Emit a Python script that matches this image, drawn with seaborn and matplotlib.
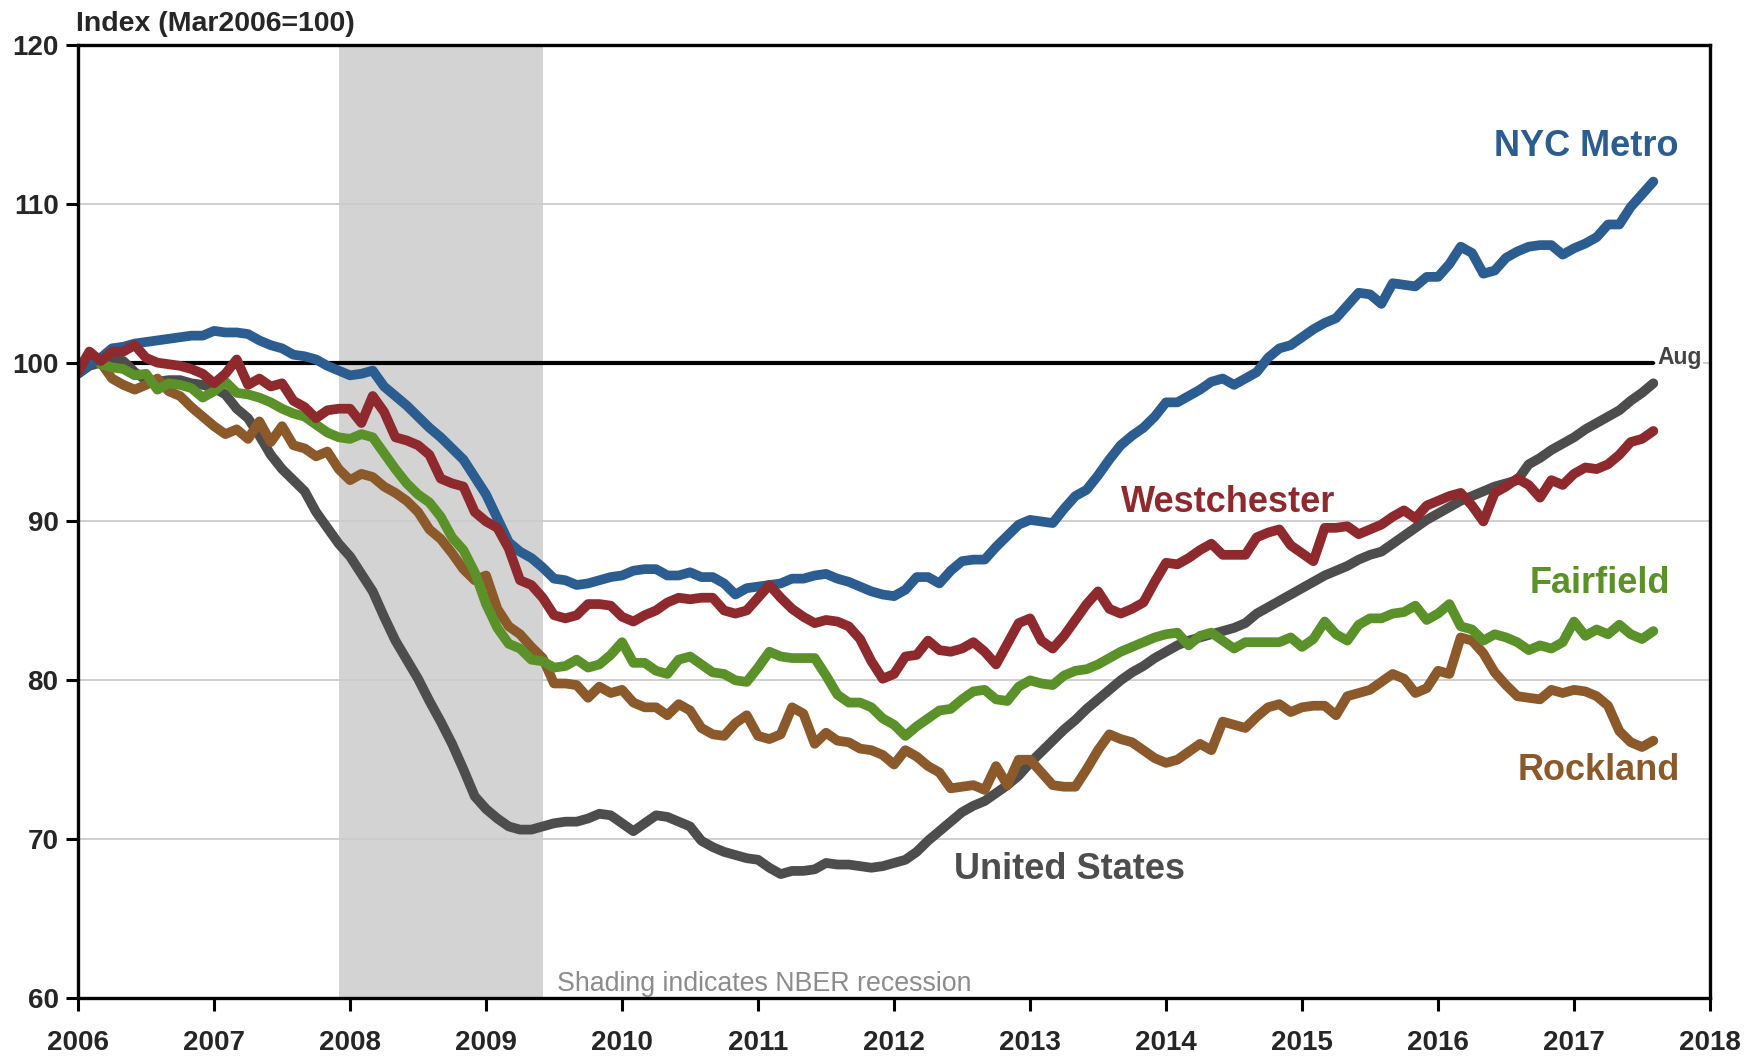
import numpy as np
import pandas as pd
import seaborn as sns
import matplotlib.pyplot as plt

# monthly index values, Jan 2006 .. Aug 2017 (Mar2006 = 100)
nyc_metro = [
    99.3, 99.9, 100.3, 100.9, 101.0, 101.2, 101.3, 101.4, 101.5, 101.6, 101.7, 101.7,
    102.0, 101.9, 101.9, 101.8, 101.4, 101.1, 100.9, 100.5, 100.4, 100.2, 99.8, 99.5,
    99.2, 99.3, 99.5, 98.5, 97.9, 97.3, 96.6, 95.9, 95.3, 94.6, 93.9, 92.8,
    91.7, 90.2, 88.7, 88.1, 87.7, 87.1, 86.4, 86.3, 86.0, 86.1, 86.3, 86.5,
    86.6, 86.9, 87.0, 87.0, 86.6, 86.6, 86.8, 86.5, 86.5, 86.1, 85.4, 85.8,
    85.9, 86.0, 86.1, 86.4, 86.4, 86.6, 86.7, 86.4, 86.2, 85.9, 85.6, 85.4,
    85.3, 85.7, 86.5, 86.5, 86.1, 86.9, 87.5, 87.6, 87.6, 88.4, 89.1, 89.8,
    90.1, 90.0, 89.9, 90.8, 91.6, 92.0, 92.9, 93.9, 94.8, 95.4, 95.9, 96.6,
    97.5, 97.5, 97.9, 98.3, 98.8, 99.0, 98.6, 99.0, 99.4, 100.3, 100.9, 101.1,
    101.6, 102.1, 102.5, 102.8, 103.6, 104.4, 104.3, 103.7, 105.0, 104.9, 104.8, 105.4,
    105.4, 106.2, 107.3, 106.9, 105.6, 105.8, 106.6, 107.0, 107.3, 107.4, 107.4, 106.8,
    107.2, 107.5, 107.9, 108.7, 108.7, 109.8, 110.6, 111.4,
]
westchester = [
    99.4, 100.7, 100.1, 100.7, 100.7, 101.1, 100.3, 100.0, 99.9, 99.8, 99.6, 99.3,
    98.7, 99.3, 100.2, 98.6, 99.0, 98.5, 98.7, 97.6, 97.2, 96.5, 97.0, 97.1,
    97.1, 96.2, 97.9, 96.9, 95.3, 95.1, 94.8, 94.2, 92.7, 92.4, 92.2, 90.6,
    90.0, 89.6, 88.3, 86.3, 86.0, 85.2, 84.1, 83.9, 84.1, 84.8, 84.8, 84.7,
    84.0, 83.7, 84.1, 84.4, 84.9, 85.2, 85.1, 85.2, 85.2, 84.4, 84.2, 84.4,
    85.2, 86.0, 85.2, 84.5, 84.0, 83.6, 83.8, 83.7, 83.4, 82.6, 81.2, 80.1,
    80.4, 81.5, 81.6, 82.5, 81.9, 81.8, 82.0, 82.4, 81.8, 81.0, 82.3, 83.6,
    83.9, 82.5, 82.0, 82.8, 83.8, 84.8, 85.6, 84.5, 84.2, 84.5, 84.9, 86.2,
    87.4, 87.3, 87.7, 88.2, 88.6, 87.9, 87.9, 87.9, 89.0, 89.3, 89.5, 88.5,
    88.0, 87.5, 89.6, 89.6, 89.7, 89.2, 89.5, 89.8, 90.3, 90.7, 90.2, 91.0,
    91.3, 91.6, 91.8, 91.0, 90.0, 91.8, 92.2, 92.7, 92.3, 91.5, 92.6, 92.3,
    93.0, 93.4, 93.3, 93.6, 94.2, 95.0, 95.2, 95.7,
]
united_states = [
    99.3, 99.8, 100.0, 100.2, 100.1, 99.4, 98.9, 98.8, 98.9, 98.9, 98.7, 98.6,
    98.4, 98.0, 97.1, 96.5, 95.4, 94.2, 93.3, 92.6, 91.9, 90.6, 89.6, 88.6,
    87.8, 86.7, 85.6, 84.0, 82.5, 81.3, 80.1, 78.7, 77.4, 76.0, 74.4, 72.7,
    71.9, 71.3, 70.8, 70.6, 70.6, 70.8, 71.0, 71.1, 71.1, 71.3, 71.6, 71.5,
    71.0, 70.5, 71.0, 71.5, 71.4, 71.1, 70.8, 69.9, 69.5, 69.2, 69.0, 68.8,
    68.7, 68.2, 67.8, 68.0, 68.0, 68.1, 68.5, 68.4, 68.4, 68.3, 68.2, 68.3,
    68.5, 68.7, 69.2, 69.9, 70.5, 71.1, 71.7, 72.1, 72.4, 72.9, 73.4, 74.0,
    74.8, 75.5, 76.2, 76.9, 77.5, 78.2, 78.8, 79.4, 80.0, 80.5, 80.9, 81.4,
    81.8, 82.2, 82.5, 82.7, 82.9, 83.1, 83.3, 83.6, 84.2, 84.6, 85.0, 85.4,
    85.8, 86.2, 86.6, 86.9, 87.2, 87.6, 87.9, 88.1, 88.6, 89.1, 89.6, 90.1,
    90.5, 90.9, 91.3, 91.6, 91.9, 92.2, 92.4, 92.6, 93.6, 94.0, 94.5, 94.9,
    95.3, 95.8, 96.2, 96.6, 97.0, 97.6, 98.1, 98.7,
]
fairfield = [
    99.6, 100.6, 99.9, 99.7, 99.6, 99.2, 99.3, 98.3, 98.7, 98.6, 98.4, 97.8,
    98.2, 98.8, 98.1, 98.0, 97.8, 97.5, 97.1, 96.8, 96.6, 96.1, 95.6, 95.3,
    95.2, 95.5, 95.3, 94.3, 93.3, 92.4, 91.7, 91.2, 90.3, 89.0, 88.2, 86.8,
    84.8, 83.3, 82.3, 82.0, 81.3, 81.2, 80.8, 80.9, 81.3, 80.8, 81.0, 81.6,
    82.4, 81.1, 81.1, 80.6, 80.4, 81.3, 81.5, 81.0, 80.5, 80.4, 80.0, 79.9,
    80.8, 81.8, 81.5, 81.4, 81.4, 81.4, 80.3, 79.1, 78.6, 78.6, 78.3, 77.6,
    77.2, 76.5, 77.1, 77.6, 78.1, 78.2, 78.8, 79.3, 79.4, 78.8, 78.7, 79.6,
    80.0, 79.8, 79.7, 80.3, 80.6, 80.7, 81.0, 81.4, 81.8, 82.1, 82.4, 82.7,
    82.9, 83.0, 82.2, 82.8, 83.0, 82.5, 82.0, 82.4, 82.4, 82.4, 82.4, 82.7,
    82.1, 82.6, 83.7, 82.9, 82.5, 83.5, 83.9, 83.9, 84.2, 84.3, 84.7, 83.8,
    84.2, 84.8, 83.4, 83.2, 82.5, 82.9, 82.7, 82.4, 81.9, 82.2, 82.0, 82.4,
    83.7, 82.8, 83.2, 82.9, 83.5, 82.9, 82.6, 83.1,
]
rockland = [
    99.6, 100.5, 100.0, 99.0, 98.6, 98.3, 98.6, 99.0, 98.2, 97.9, 97.2, 96.6,
    96.0, 95.5, 95.8, 95.2, 96.3, 95.0, 96.0, 94.8, 94.6, 94.1, 94.4, 93.3,
    92.6, 93.0, 92.8, 92.2, 91.8, 91.3, 90.6, 89.5, 88.9, 88.0, 87.0, 86.3,
    86.6, 84.5, 83.4, 82.9, 82.1, 81.4, 79.8, 79.8, 79.7, 78.9, 79.6, 79.2,
    79.4, 78.6, 78.3, 78.3, 77.8, 78.5, 78.1, 77.0, 76.6, 76.5, 77.3, 77.8,
    76.5, 76.3, 76.6, 78.3, 77.9, 76.0, 76.7, 76.2, 76.1, 75.7, 75.6, 75.3,
    74.7, 75.6, 75.2, 74.6, 74.2, 73.2, 73.3, 73.4, 73.1, 74.6, 73.4, 75.0,
    75.0, 74.2, 73.4, 73.3, 73.3, 74.4, 75.6, 76.6, 76.3, 76.1, 75.6, 75.1,
    74.8, 75.0, 75.5, 76.0, 75.6, 77.4, 77.2, 77.0, 77.7, 78.3, 78.5, 78.0,
    78.3, 78.4, 78.4, 77.8, 79.0, 79.2, 79.4, 79.9, 80.4, 80.1, 79.2, 79.5,
    80.6, 80.4, 82.7, 82.5, 81.7, 80.5, 79.7, 79.0, 78.9, 78.8, 79.4, 79.2,
    79.4, 79.3, 79.0, 78.4, 76.8, 76.1, 75.8, 76.2,
]

series_names = ["United States", "Rockland", "Fairfield", "NYC Metro", "Westchester"]
colors = {
    "NYC Metro": "#2B5D91",
    "Westchester": "#8E2A2D",
    "United States": "#4D4D4D",
    "Fairfield": "#5B9129",
    "Rockland": "#8C5A2A",
}
label_pos = {
    "NYC Metro": (2017.09, 113.6),
    "Westchester": (2014.46, 91.2),
    "Fairfield": (2017.19, 86.1),
    "Rockland": (2017.18, 74.3),
    "United States": (2013.29, 68.1),
}
recession = (2007 + 11 / 12, 2009 + 5 / 12)
years = list(range(2006, 2019))
yticks = [60, 70, 80, 90, 100, 110, 120]

values = {
    "NYC Metro": nyc_metro,
    "Westchester": westchester,
    "United States": united_states,
    "Fairfield": fairfield,
    "Rockland": rockland,
}
n = len(nyc_metro)
t = 2006 + np.arange(n) / 12

df = pd.concat(
    [pd.DataFrame({"t": t, "value": values[s], "series": s}) for s in series_names],
    ignore_index=True,
)

sns.set_theme(style="white")
plt.rcParams["font.family"] = ["Liberation Sans", "DejaVu Sans"]

fig = plt.figure(figsize=(17.62, 10.61), dpi=100)
ax = fig.add_axes([0.0443, 0.0594, 0.9262, 0.8982])

ax.axvspan(*recession, color="#D3D3D3", lw=0, zorder=0)
ref_line, = ax.plot([t[0], t[-1]], [100, 100], color="black", lw=3, zorder=1.5)

sns.lineplot(data=df, x="t", y="value", hue="series", hue_order=series_names,
             palette=colors, linewidth=7, legend=False, ax=ax, zorder=2)
# make sure the series lines really get the heavy stroke
for line in ax.lines:
    if line is not ref_line:
        line.set_linewidth(7)
        line.set_solid_joinstyle("round")

for s, (x, y) in label_pos.items():
    ax.text(x, y, s, color=colors[s], fontsize=26, fontweight="bold",
            ha="center", va="center")

ax.text(t[-1] + 0.03, 100.3, "Aug", color="#444444", fontsize=16.5,
        fontweight="bold", ha="left", va="center",
        bbox=dict(facecolor="white", edgecolor="none", pad=1))
ax.text(2009.52, 60.9, "Shading indicates NBER recession", color="#8C8C8C",
        fontsize=19.3, ha="left", va="center")
ax.text(-0.001, 1.008, "Index (Mar2006=100)", transform=ax.transAxes,
        fontsize=20.5, fontweight="bold", ha="left", va="bottom")

ax.set_xlim(2006, 2018)
ax.set_ylim(60, 120)
ax.set_xticks(years)
ax.set_yticks(yticks)
ax.set_xticklabels([str(y) for y in years], fontsize=20, fontweight="bold")
ax.set_yticklabels([str(v) for v in yticks], fontsize=20, fontweight="bold")
ax.set_xlabel("")
ax.set_ylabel("")
ax.grid(axis="y", color="#CCCCCC", lw=1.3)
ax.set_axisbelow(True)
ax.tick_params(axis="both", direction="out", length=9, width=2.2, color="black",
               bottom=True, left=True)
ax.tick_params(axis="x", pad=14)
ax.tick_params(axis="y", pad=5)
for sp in ax.spines.values():
    sp.set_color("black")
    sp.set_linewidth(2.4)

fig.savefig("out.png", dpi=100)
